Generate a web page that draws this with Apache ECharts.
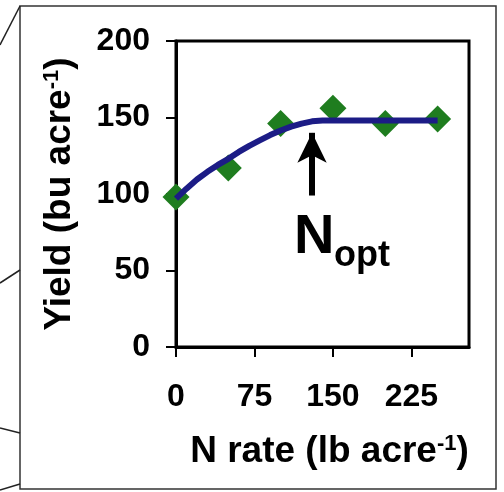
<!DOCTYPE html>
<html>
<head>
    <meta charset="utf-8">
    <title>Yield vs N rate</title>
    <script src="https://cdn.jsdelivr.net/npm/echarts@6/dist/echarts.min.js"></script>
</head>
<body style="margin:0;background:#fff;">
<div id="main" style="width:504px;height:492px;"></div>
<script type="text/javascript">
// observed yields
var nRates = [0, 50, 100, 150, 200, 250];
var yields = [98, 117, 146, 156, 146, 149];

// quadratic-plateau fit
var fitX = [0, 10, 20, 30, 40, 50, 60, 70, 80, 90, 100, 110, 120, 130, 140, 250];
var fitY = [97, 103.5, 109.5, 114.5, 119, 123, 127.5, 131.5, 135, 138.5, 141.5, 144, 146, 147.5, 148, 148];

var xTicks = [0, 75, 150, 225];
var nOpt = 130;

var font = "'Liberation Sans', Arial, sans-serif";

var myChart = echarts.init(document.getElementById('main'));

var obs = nRates.map(function (x, i) { return [x, yields[i]]; });
var fit = fitX.map(function (x, i) { return [x, fitY[i]]; });

var supStyle = { fontSize: 22, fontWeight: 'bold', fontFamily: font, verticalAlign: 'top', color: '#000', padding: [0, 0, 12, 0] };

myChart.setOption({
    backgroundColor: '#fff',
    animation: false,
    grid: {
        left: 176, right: 35, top: 41, bottom: 145,
        show: true, borderColor: '#000', borderWidth: 3
    },
    xAxis: {
        type: 'value', min: 0, max: 280, interval: 75,
        splitLine: { show: false },
        axisLine: { lineStyle: { color: '#000', width: 3 } },
        axisTick: { customValues: xTicks, length: 10, lineStyle: { color: '#000', width: 2 } },
        axisLabel: {
            customValues: xTicks, margin: 34,
            color: '#000', fontSize: 32, fontWeight: 'bold', fontFamily: font
        },
        name: 'N rate (lb acre{sup|-1})',
        nameLocation: 'middle', nameGap: 86,
        nameTextStyle: {
            color: '#000', fontSize: 37, fontWeight: 'bold', fontFamily: font,
            padding: [0, 0, 0, 14],
            rich: { sup: supStyle }
        }
    },
    yAxis: {
        type: 'value', min: 0, max: 200, interval: 50,
        splitLine: { show: false },
        axisLine: { show: true, lineStyle: { color: '#000', width: 3 } },
        axisTick: { show: true, length: 10, lineStyle: { color: '#000', width: 2 } },
        axisLabel: {
            margin: 26, color: '#000', fontSize: 32, fontWeight: 'bold', fontFamily: font
        },
        name: 'Yield (bu acre{sup|-1})',
        nameLocation: 'middle', nameGap: 98, nameRotate: 90,
        nameTextStyle: {
            color: '#000', fontSize: 37, fontWeight: 'bold', fontFamily: font,
            rich: { sup: supStyle }
        }
    },
    series: [
        {
            type: 'scatter',
            data: obs,
            symbol: 'diamond',
            symbolSize: [27, 27],
            itemStyle: { color: '#1f7d1f', opacity: 1 },
            z: 2,
            silent: true
        },
        {
            type: 'line',
            data: fit,
            showSymbol: false,
            lineStyle: { color: '#1c1c86', width: 6 },
            z: 3,
            silent: true,
            markLine: {
                silent: true,
                symbol: ['none', 'arrow'],
                symbolSize: [22, 30],
                label: { show: false },
                lineStyle: { color: '#000', width: 6, type: 'solid' },
                data: [[{ coord: [nOpt, 99] }, { coord: [nOpt, 140] }]]
            }
        }
    ],
    graphic: [
        { type: 'rect', shape: { x: 20, y: 6, width: 476, height: 483 },
          style: { fill: 'none', stroke: '#333', lineWidth: 1.5 }, silent: true },
        { type: 'line', shape: { x1: 0, y1: 45, x2: 20, y2: 6 }, style: { stroke: '#222', lineWidth: 1.5 } },
        { type: 'line', shape: { x1: 0, y1: 283, x2: 20, y2: 270 }, style: { stroke: '#222', lineWidth: 1.5 } },
        { type: 'line', shape: { x1: 0, y1: 428, x2: 20, y2: 433 }, style: { stroke: '#222', lineWidth: 1.5 } },
        { type: 'line', shape: { x1: 0, y1: 490, x2: 20, y2: 484 }, style: { stroke: '#222', lineWidth: 1.5 } },
        { type: 'text', x: 294, y: 238,
          style: { text: 'N', fill: '#000', font: 'bold 56px ' + font, textVerticalAlign: 'middle' } },
        { type: 'text', x: 334, y: 256,
          style: { text: 'opt', fill: '#000', font: 'bold 36px ' + font, textVerticalAlign: 'middle' } }
    ]
});
</script>
</body>
</html>
